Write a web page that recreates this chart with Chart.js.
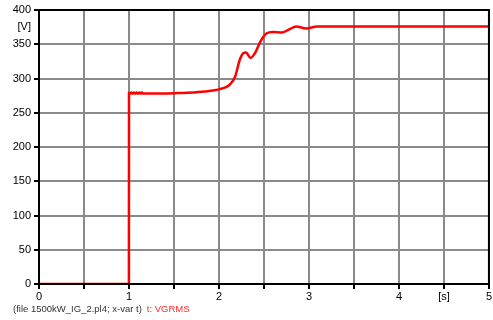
<!DOCTYPE html>
<html><head><meta charset="utf-8">
<script src="https://cdn.jsdelivr.net/npm/chart.js@4"></script>
<style>html,body{margin:0;padding:0;background:#fff}#wrap{width:493px;height:320px}</style>
</head><body><div id="wrap"><canvas id="c" width="493" height="320"></canvas></div>
<script>
const times = [0, 0.5, 0.999, 1.0, 1.01, 1.025, 1.04, 1.055, 1.07, 1.085, 1.1, 1.115, 1.13, 1.145, 1.16, 1.2, 1.4, 1.6, 1.75, 1.85, 1.95, 2.01, 2.07, 2.12, 2.18, 2.23, 2.27, 2.3, 2.35, 2.4, 2.46, 2.53, 2.6, 2.7, 2.77, 2.86, 2.97, 3.09, 3.3, 3.6, 4.0, 4.5, 5.0];
const volts = [0, 0, 0, 279, 278, 279.5, 278, 279.5, 278, 279.5, 278, 279.5, 278, 279.5, 278, 278, 278, 279, 280, 281, 283, 284.5, 287, 291, 303, 327, 337, 338, 330, 337, 354, 366, 368, 367, 371, 376, 373, 376, 376, 376, 376, 376, 376];
const xTickLabels = {0:'0',1:'1',2:'2',3:'3',4:'4',4.5:'[s]',5:'5'};
const yTickLabels = {0:'0',50:'50',100:'100',150:'150',200:'200',250:'250',300:'300',350:'350',375:'[V]',400:'400'};
const seriesName = 't: VGRMS';
const fileText = '(file 1500kW_IG_2.pl4; x-var t)';

const extras = {
  id: 'extras',
  afterDraw(chart) {
    const ctx = chart.ctx, a = chart.chartArea;
    ctx.save();
    ctx.strokeStyle = '#000'; ctx.lineWidth = 2;
    ctx.strokeRect(a.left, a.top, a.right - a.left, a.bottom - a.top);
    ctx.font = '9.5px "Liberation Sans", Arial, sans-serif';
    ctx.textBaseline = 'middle';
    ctx.fillStyle = '#333';
    ctx.fillText(fileText, 13, 309);
    const w = ctx.measureText(fileText).width;
    ctx.fillStyle = '#ff2a2a';
    ctx.fillText(seriesName, 13 + w + 5, 309);
    ctx.restore();
  }
};

new Chart(document.getElementById('c'), {
  type: 'line',
  data: { datasets: [{
    data: times.map((t, i) => ({x: t, y: volts[i]})),
    borderColor: '#ff0000', borderWidth: 2.5, pointRadius: 0, cubicInterpolationMode: 'monotone', fill: false
  }]},
  options: {
    responsive: false, animation: false, events: [],
    layout: { padding: { top: 10, right: 3, left: 0, bottom: 0 } },
    plugins: { legend: { display: false }, tooltip: { enabled: false } },
    scales: {
      x: {
        type: 'linear', min: 0, max: 5,
        afterFit(s) { s.height = 36; },
        afterBuildTicks(s) { s.ticks = []; for (let v = 0; v <= 5.0001; v += 0.5) s.ticks.push({value: Math.round(v*10)/10}); },
        ticks: { autoSkip: false, maxRotation: 0, color: '#000', padding: 1,
          font: { family: '"Liberation Sans", Arial, sans-serif', size: 11 },
          callback: v => xTickLabels[v] !== undefined ? xTickLabels[v] : '' },
        grid: { color: '#8a8a8a', lineWidth: 2, tickColor: '#000', tickLength: 5, drawTicks: true },
        border: { display: false }
      },
      y: {
        type: 'linear', min: 0, max: 400,
        afterFit(s) { s.width = 39; },
        afterBuildTicks(s) { s.ticks = []; for (let v = 0; v <= 400; v += 25) s.ticks.push({value: v}); },
        ticks: { autoSkip: false, color: '#000', padding: 3,
          font: { family: '"Liberation Sans", Arial, sans-serif', size: 11 },
          callback: v => yTickLabels[v] !== undefined ? yTickLabels[v] : '' },
        grid: { color: c => (c.tick && c.tick.value % 50 === 0) ? '#8a8a8a' : 'rgba(0,0,0,0)', lineWidth: 2,
          tickColor: c => (c.tick && c.tick.value % 50 === 0) ? '#000' : 'rgba(0,0,0,0)', tickLength: 5 },
        border: { display: false }
      }
    }
  },
  plugins: [extras]
});
</script></body></html>
